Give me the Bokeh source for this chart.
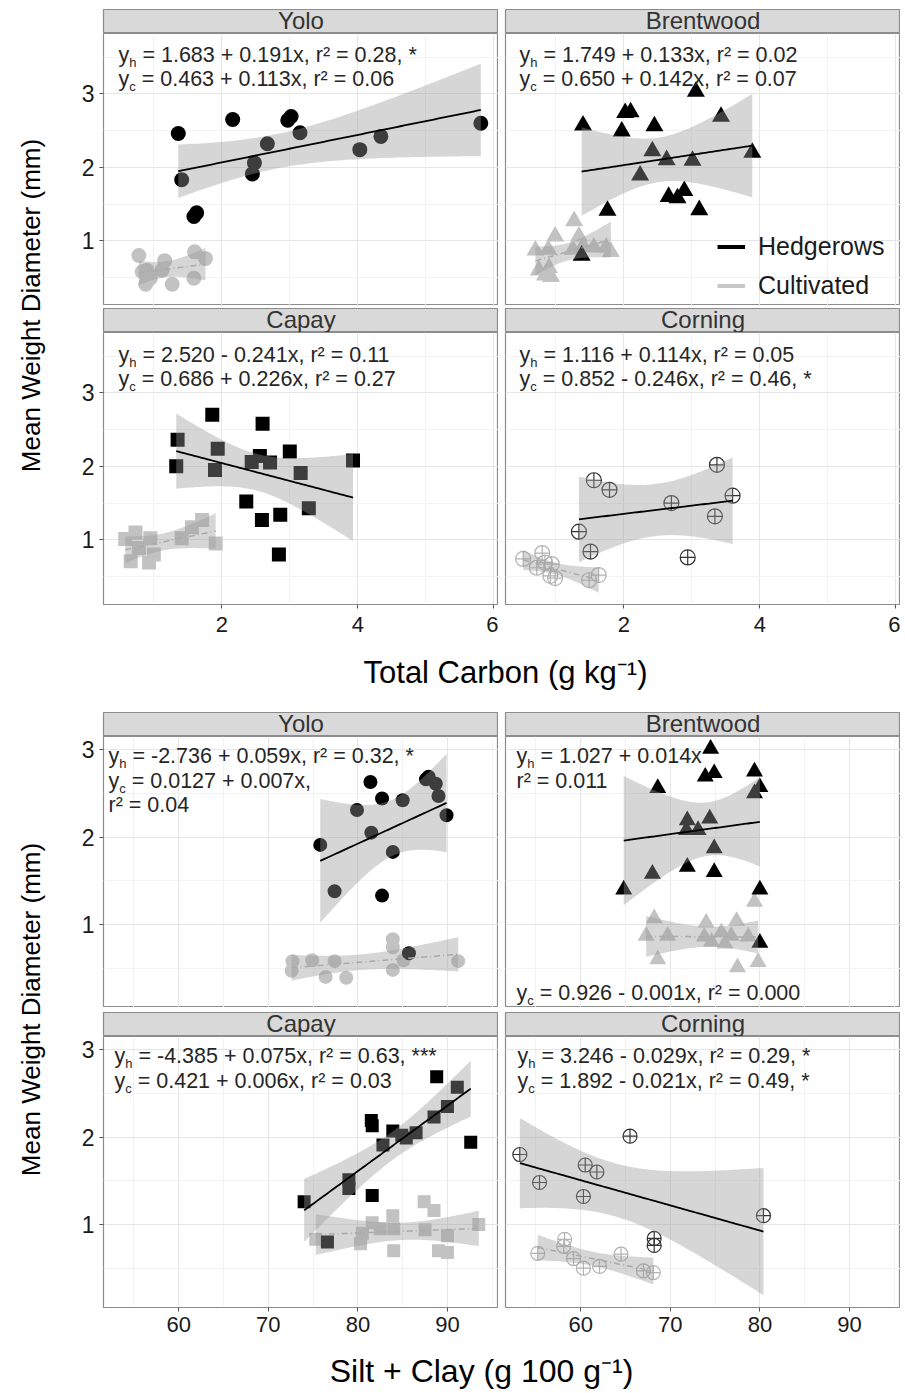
import numpy as np
from bokeh.plotting import figure
from bokeh.layouts import row, column
from bokeh.models import Label, FixedTicker, Range1d, Legend, LegendItem
from bokeh.embed import file_html
from bokeh.resources import INLINE

FONT = "Liberation Sans"
TXT = "#262626"

site_names = ["Yolo", "Brentwood", "Capay", "Corning"]
site_markers = ["circle", "triangle", "square", "circle_cross"]

# ---------------- Total Carbon section ----------------
tc_yolo_h_x = [1.36, 1.41, 1.59, 1.63, 2.16, 2.48, 2.45, 2.67, 2.97, 3.02, 3.15, 4.03, 4.34, 5.81]
tc_yolo_h_y = [2.46, 1.83, 1.33, 1.38, 2.65, 2.06, 1.91, 2.32, 2.64, 2.69, 2.47, 2.24, 2.42, 2.60]
tc_yolo_c_x = [0.78, 0.90, 0.83, 0.95, 0.88, 1.16, 1.12, 1.27, 1.60, 1.76, 1.59]
tc_yolo_c_y = [0.80, 0.60, 0.58, 0.49, 0.41, 0.73, 0.60, 0.41, 0.85, 0.76, 0.49]

tc_brent_h_x = [1.40, 2.02, 2.10, 1.97, 2.45, 3.06, 3.43, 2.42, 2.63, 3.01, 3.89, 2.24, 1.76, 2.66, 2.79, 2.89, 3.11, 1.38]
tc_brent_h_y = [2.57, 2.74, 2.75, 2.49, 2.56, 3.03, 2.69, 2.22, 2.10, 2.09, 2.20, 1.89, 1.41, 1.60, 1.58, 1.68, 1.42, 0.80]
tc_brent_c_x = [0.70, 0.89, 0.99, 1.27, 1.34, 1.40, 1.25, 1.56, 1.74, 1.81, 0.75, 0.90, 0.93, 0.84]
tc_brent_c_y = [0.87, 0.88, 1.06, 1.27, 1.06, 0.93, 0.88, 0.91, 0.91, 0.85, 0.60, 0.63, 0.51, 0.53]

tc_capay_h_x = [1.86, 2.60, 1.35, 1.33, 1.94, 1.90, 3.00, 2.56, 2.44, 2.71, 3.16, 3.93, 2.36, 2.59, 2.86, 3.28, 2.84]
tc_capay_h_y = [2.70, 2.58, 2.36, 2.00, 2.24, 1.95, 2.20, 2.14, 2.06, 2.05, 1.91, 2.08, 1.52, 1.27, 1.34, 1.43, 0.80]
tc_capay_c_x = [0.73, 0.58, 0.95, 0.78, 0.66, 0.93, 1.00, 1.41, 1.56, 1.71, 1.91]
tc_capay_c_y = [1.10, 1.01, 1.02, 0.89, 0.71, 0.69, 0.80, 1.02, 1.17, 1.27, 0.95]

tc_corning_h_x = [1.56, 1.79, 2.70, 3.37, 3.60, 3.34, 1.34, 1.51, 2.94]
tc_corning_h_y = [1.81, 1.68, 1.50, 2.02, 1.60, 1.32, 1.11, 0.84, 0.76]
tc_corning_c_x = [0.52, 0.80, 0.72, 0.94, 0.84, 0.99, 0.92, 1.49, 1.63]
tc_corning_c_y = [0.74, 0.82, 0.62, 0.67, 0.69, 0.48, 0.51, 0.45, 0.52]

tc_eq_h = ["= 1.683 + 0.191x, r\u00b2 = 0.28, *", "= 1.749 + 0.133x, r\u00b2 = 0.02",
           "= 2.520 - 0.241x, r\u00b2 = 0.11", "= 1.116 + 0.114x, r\u00b2 = 0.05"]
tc_eq_c = ["= 0.463 + 0.113x, r\u00b2 = 0.06", "= 0.650 + 0.142x, r\u00b2 = 0.07",
           "= 0.686 + 0.226x, r\u00b2 = 0.27", "= 0.852 - 0.246x, r\u00b2 = 0.46, *"]

tc_xticks = [2, 4, 6]
tc_xminor = [1, 3, 5]

# ---------------- Silt + Clay section ----------------
sc_yolo_h_x = [87.9, 88.7, 87.6, 81.4, 82.7, 85.0, 79.9, 89.0, 89.9, 81.5, 75.8, 83.9, 77.4, 82.7, 85.7]
sc_yolo_h_y = [2.69, 2.61, 2.66, 2.63, 2.44, 2.42, 2.31, 2.47, 2.25, 2.05, 1.91, 1.83, 1.38, 1.33, 0.67]
sc_yolo_c_x = [72.7, 72.6, 74.9, 77.4, 76.4, 78.7, 83.9, 83.9, 83.9, 85.1, 91.2]
sc_yolo_c_y = [0.58, 0.47, 0.59, 0.58, 0.40, 0.39, 0.83, 0.74, 0.48, 0.59, 0.58]

sc_brent_h_x = [74.5, 73.9, 74.9, 79.4, 80.0, 79.4, 68.6, 71.9, 74.4, 73.1, 71.8, 74.9, 71.9, 68.0, 74.9, 64.8, 80.0, 80.0]
sc_brent_h_y = [3.01, 2.69, 2.73, 2.75, 2.57, 2.50, 2.56, 2.19, 2.21, 2.08, 2.08, 1.87, 1.66, 1.58, 1.60, 1.40, 1.40, 0.79]
sc_brent_c_x = [79.4, 68.2, 67.3, 69.7, 68.6, 74.0, 77.4, 73.8, 75.7, 76.8, 78.7, 76.1, 77.5, 79.8, 74.6]
sc_brent_c_y = [1.26, 1.07, 0.87, 0.87, 0.60, 1.02, 1.04, 0.86, 0.91, 0.87, 0.86, 0.78, 0.51, 0.57, 0.80]

sc_capay_h_x = [88.8, 91.1, 90.0, 88.5, 81.5, 81.6, 83.9, 84.9, 86.5, 85.4, 82.8, 92.6, 79.0, 79.0, 74.0, 81.6, 76.6]
sc_capay_h_y = [2.69, 2.57, 2.35, 2.23, 2.19, 2.13, 2.07, 2.02, 2.05, 1.99, 1.91, 1.94, 1.51, 1.41, 1.26, 1.33, 0.80]
sc_capay_c_x = [75.3, 80.5, 80.3, 81.6, 83.9, 84.0, 82.5, 84.0, 87.4, 88.5, 87.5, 90.0, 89.0, 90.0, 93.5]
sc_capay_c_y = [0.83, 0.90, 0.78, 1.02, 1.10, 0.95, 0.95, 0.70, 1.26, 1.16, 0.94, 0.87, 0.70, 0.68, 1.00]

sc_corning_h_x = [53.2, 55.4, 60.5, 61.8, 60.3, 65.5, 68.2, 68.2, 80.4]
sc_corning_h_y = [1.80, 1.48, 1.68, 1.60, 1.32, 2.01, 0.84, 0.76, 1.10]
sc_corning_c_x = [55.2, 58.2, 58.1, 59.2, 60.3, 62.1, 64.5, 67.0, 68.1]
sc_corning_c_y = [0.67, 0.83, 0.75, 0.61, 0.50, 0.52, 0.66, 0.47, 0.45]

sc_eq_h = ["= -2.736 + 0.059x, r\u00b2 = 0.32, *", "= 1.027 + 0.014x",
           "= -4.385 + 0.075x, r\u00b2 = 0.63, ***", "= 3.246 - 0.029x, r\u00b2 = 0.29, *"]
sc_eq_c = ["= 0.0127 + 0.007x,", "= 0.926 - 0.001x, r\u00b2 = 0.000",
           "= 0.421 + 0.006x, r\u00b2 = 0.03", "= 1.892 - 0.021x, r\u00b2 = 0.49, *"]
sc_eq_r2_yolo = "r\u00b2 = 0.04"
sc_eq_r2_brent = "r\u00b2 = 0.011"

sc_xticks = [60, 70, 80, 90]
sc_xminor = [55, 65, 75, 85, 95]

y_ticks = [1, 2, 3]
y_minor = [0.5, 1.5, 2.5, 3.5]

# ---------------- geometry ----------------
YLAB_W = 56
BL_LEFT = 47
BL_RIGHT = 7
FW = 395
STRIP_H = 24
EQ_SIZE = 21.5
SUB_SIZE = 13


def base_fix(size):
    # compensation so that the alphabetic baseline lands where intended
    return 0.37 * size


def t975(d):
    z = 1.959964
    return (z + (z**3 + z) / (4 * d) + (5 * z**5 + 16 * z**3 + 3 * z) / (96 * d**2)
            + (3 * z**7 + 19 * z**5 + 17 * z**3 - 15 * z) / (384 * d**3))


def fit_band(x, y, n=80):
    x = np.asarray(x, float)
    y = np.asarray(y, float)
    b, a = np.polyfit(x, y, 1)
    xs = np.linspace(x.min(), x.max(), n)
    yh = a + b * xs
    dof = len(x) - 2
    s = np.sqrt(((y - (a + b * x)) ** 2).sum() / dof)
    sxx = ((x - x.mean()) ** 2).sum()
    se = s * np.sqrt(1.0 / len(x) + (xs - x.mean()) ** 2 / sxx)
    t = t975(dof)
    return xs, yh, yh - t * se, yh + t * se


def blank_fig(**kw):
    f = figure(toolbar_location=None, output_backend="svg", title=None,
               x_axis_location=None, y_axis_location=None,
               x_range=Range1d(0, 1), y_range=Range1d(0, 1), **kw)
    f.xgrid.visible = False
    f.ygrid.visible = False
    f.outline_line_color = None
    return f


def make_strip(name, left_border, top_border):
    s = blank_fig(frame_width=FW, frame_height=STRIP_H, min_border_left=left_border,
                  min_border_right=0, min_border_top=top_border, min_border_bottom=0)
    s.background_fill_color = "#D9D9D9"
    s.outline_line_color = "#8C8C8C"
    s.outline_line_width = 1.2
    s.add_layout(Label(x=0.5, y=0.56, text=name, text_align="center", text_baseline="middle",
                       text_font=FONT, text_font_size="24px", text_color="#333333"))
    return s


def put_text(p, x, y_base, text, size):
    p.add_layout(Label(x=x, y=y_base + base_fix(size), x_units="screen", y_units="screen",
                       text=text, text_font=FONT, text_color=TXT, text_baseline="alphabetic",
                       text_align="left", text_font_size="%.1fpx" % size))


def eq_line(p, fh, x, ytop, sub, rest):
    yb = fh - ytop
    if sub is None:
        put_text(p, x, yb, rest, EQ_SIZE)
        return
    wy = 0.5 * EQ_SIZE
    put_text(p, x, yb, "y", EQ_SIZE)
    put_text(p, x + wy, yb - 4.7, sub, SUB_SIZE)
    sw = (0.556 if sub == "h" else 0.5) * SUB_SIZE
    put_text(p, x + wy + sw + 0.278 * EQ_SIZE, yb, rest, EQ_SIZE)


def make_panel(xr, yr, xt, xm, hx, hy, cx, cy, marker, is_left, is_bottom, fh, top_b, bot_b, msize, xstand):
    p = figure(frame_width=FW, frame_height=fh, x_range=Range1d(*xr), y_range=Range1d(*yr),
               min_border_left=BL_LEFT if is_left else BL_RIGHT, min_border_right=0,
               min_border_top=top_b, min_border_bottom=bot_b,
               x_axis_location="below" if is_bottom else None,
               y_axis_location="left" if is_left else None,
               toolbar_location=None, output_backend="svg", title=None)
    p.outline_line_color = "#8C8C8C"
    p.outline_line_width = 1.2
    p.background_fill_color = "white"
    p.xgrid.ticker = FixedTicker(ticks=xt, minor_ticks=xm)
    p.ygrid.ticker = FixedTicker(ticks=y_ticks, minor_ticks=y_minor)
    p.xgrid.grid_line_color = "#E6E6E6"
    p.ygrid.grid_line_color = "#E6E6E6"
    p.xgrid.minor_grid_line_color = "#F2F2F2"
    p.ygrid.minor_grid_line_color = "#F2F2F2"
    for ax, tk in ((p.xaxis, xt), (p.yaxis, y_ticks)):
        ax.ticker = FixedTicker(ticks=tk)
        ax.axis_line_color = None
        ax.major_tick_line_color = "#555555"
        ax.major_tick_out = 4
        ax.major_tick_in = 0
        ax.minor_tick_line_color = None
        ax.major_label_text_font = FONT
        ax.major_label_text_color = "#1a1a1a"
    p.xaxis.major_label_text_font_size = "22px"
    p.yaxis.major_label_text_font_size = "23px"
    p.xaxis.major_label_standoff = xstand
    p.yaxis.major_label_standoff = 5

    if marker == "circle_cross":
        p.scatter(cx, cy, marker=marker, size=msize, fill_color=None, line_color="#B3B3B3", line_width=1.2)
        p.scatter(hx, hy, marker=marker, size=msize, fill_color=None, line_color="#333333", line_width=1.2)
    else:
        sz = msize + (3 if marker == "triangle" else 0) - (1 if marker == "square" else 0)
        p.scatter(cx, cy, marker=marker, size=sz, fill_color="#C2C2C2", line_color=None)
        p.scatter(hx, hy, marker=marker, size=sz, fill_color="black", line_color=None)

    xs, yh, lo, hi = fit_band(hx, hy)
    p.varea(x=xs, y1=lo, y2=hi, fill_color="#999999", fill_alpha=0.4)
    p.line(xs, yh, line_color="black", line_width=1.8)
    xs, yh, lo, hi = fit_band(cx, cy)
    p.varea(x=xs, y1=lo, y2=hi, fill_color="#999999", fill_alpha=0.4)
    p.line(xs, yh, line_color="#AAAAAA", line_width=1.5, line_dash="6 3 1 3")
    return p


def make_ylab(height, ycenter_from_bottom):
    f = blank_fig(width=YLAB_W, height=height, min_border=0)
    f.add_layout(Label(x=30, y=ycenter_from_bottom, x_units="screen", y_units="screen",
                       text="Mean Weight Diameter (mm)", angle=np.pi / 2, text_align="center",
                       text_baseline="middle", text_font=FONT, text_font_size="26px", text_color="black"))
    return f


def make_xlab(height, text, xc, y_base, size):
    f = blank_fig(width=YLAB_W + BL_LEFT + FW + BL_RIGHT + FW, height=height, min_border=0)
    f.add_layout(Label(x=xc, y=y_base + base_fix(size), x_units="screen", y_units="screen", text=text,
                       text_align="center", text_baseline="alphabetic", text_font=FONT,
                       text_font_size="%dpx" % size, text_color="black"))
    return f


# ---------------- Top section ----------------
tc_data = [(tc_yolo_h_x, tc_yolo_h_y, tc_yolo_c_x, tc_yolo_c_y),
           (tc_brent_h_x, tc_brent_h_y, tc_brent_c_x, tc_brent_c_y),
           (tc_capay_h_x, tc_capay_h_y, tc_capay_c_x, tc_capay_c_y),
           (tc_corning_h_x, tc_corning_h_y, tc_corning_c_x, tc_corning_c_y)]
TC_XR = (0.26, 6.07)
TC_YR = (0.12, 3.82)
FH_T = 272
top_panels = []
for i in range(4):
    is_left = i % 2 == 0
    is_bottom = i >= 2
    d = tc_data[i]
    p = make_panel(TC_XR, TC_YR, tc_xticks, tc_xminor, d[0], d[1], d[2], d[3], site_markers[i],
                   is_left, is_bottom, FH_T, 0, 39 if is_bottom else 0, 15, 8)
    xo = 15 if is_left else 14
    y1, y2 = (29, 53) if i < 2 else (30, 54)
    eq_line(p, FH_T, xo, y1, "h", tc_eq_h[i])
    eq_line(p, FH_T, xo, y2, "c", tc_eq_c[i])
    top_panels.append(p)

# legend in Brentwood panel
pb = top_panels[1]
r1 = pb.line([np.nan], [np.nan], line_color="black", line_width=4)
r2 = pb.line([np.nan], [np.nan], line_color="#C8C8C8", line_width=4)
leg = Legend(items=[LegendItem(label="Hedgerows", renderers=[r1]),
                    LegendItem(label="Cultivated", renderers=[r2])],
             location=(212, 5), label_text_font=FONT, label_text_font_size="25px",
             label_text_color="#1a1a1a", glyph_width=28, glyph_height=25, label_height=25,
             spacing=10, padding=0, margin=0, border_line_color=None,
             background_fill_alpha=0, label_standoff=13)
pb.add_layout(leg)

top_strips = [make_strip(site_names[0], BL_LEFT, 9), make_strip(site_names[1], BL_RIGHT, 9),
              make_strip(site_names[2], BL_LEFT, 3), make_strip(site_names[3], BL_RIGHT, 3)]
top_grid = column(row(top_strips[0], top_strips[1]), row(top_panels[0], top_panels[1]),
                  row(top_strips[2], top_strips[3]), row(top_panels[2], top_panels[3]))
top_h = (9 + STRIP_H) + FH_T + (3 + STRIP_H) + (FH_T + 39)
top_section = row(make_ylab(top_h, top_h - 305), top_grid)
top_xlab = make_xlab(66, "Total Carbon (g kg\u207b\u00b9)", 505, 26, 31)

# ---------------- Bottom section ----------------
sc_data = [(sc_yolo_h_x, sc_yolo_h_y, sc_yolo_c_x, sc_yolo_c_y),
           (sc_brent_h_x, sc_brent_h_y, sc_brent_c_x, sc_brent_c_y),
           (sc_capay_h_x, sc_capay_h_y, sc_capay_c_x, sc_capay_c_y),
           (sc_corning_h_x, sc_corning_h_y, sc_corning_c_x, sc_corning_c_y)]
SC_XR = (51.6, 95.7)
SC_YR = (0.05, 3.15)
FH_B = 271
bot_panels = []
for i in range(4):
    is_left = i % 2 == 0
    is_bottom = i >= 2
    d = sc_data[i]
    p = make_panel(SC_XR, SC_YR, sc_xticks, sc_xminor, d[0], d[1], d[2], d[3], site_markers[i],
                   is_left, is_bottom, FH_B, 0, 40 if is_bottom else 0, 14, 5)
    bot_panels.append(p)

eq_line(bot_panels[0], FH_B, 5, 27, "h", sc_eq_h[0])
eq_line(bot_panels[0], FH_B, 5, 52, "c", sc_eq_c[0])
eq_line(bot_panels[0], FH_B, 5, 76, None, sc_eq_r2_yolo)
eq_line(bot_panels[1], FH_B, 11, 27, "h", sc_eq_h[1])
eq_line(bot_panels[1], FH_B, 11, 52, None, sc_eq_r2_brent)
eq_line(bot_panels[1], FH_B, 11, FH_B - 7, "c", sc_eq_c[1])
eq_line(bot_panels[2], FH_B, 11, 27, "h", sc_eq_h[2])
eq_line(bot_panels[2], FH_B, 11, 52, "c", sc_eq_c[2])
eq_line(bot_panels[3], FH_B, 12, 27, "h", sc_eq_h[3])
eq_line(bot_panels[3], FH_B, 12, 52, "c", sc_eq_c[3])

bot_strips = [make_strip(site_names[0], BL_LEFT, 3), make_strip(site_names[1], BL_RIGHT, 3),
              make_strip(site_names[2], BL_LEFT, 5), make_strip(site_names[3], BL_RIGHT, 5)]
bot_grid = column(row(bot_strips[0], bot_strips[1]), row(bot_panels[0], bot_panels[1]),
                  row(bot_strips[2], bot_strips[3]), row(bot_panels[2], bot_panels[3]))
bot_h = (3 + STRIP_H) + FH_B + (5 + STRIP_H) + (FH_B + 40)
bot_section = row(make_ylab(bot_h, bot_h - 300), bot_grid)
bot_xlab = make_xlab(45, "Silt + Clay (g 100 g\u207b\u00b9)", 481, 10, 32)

layout = column(top_section, top_xlab, bot_section, bot_xlab)
open("out.html", "w").write(file_html(layout, INLINE))
